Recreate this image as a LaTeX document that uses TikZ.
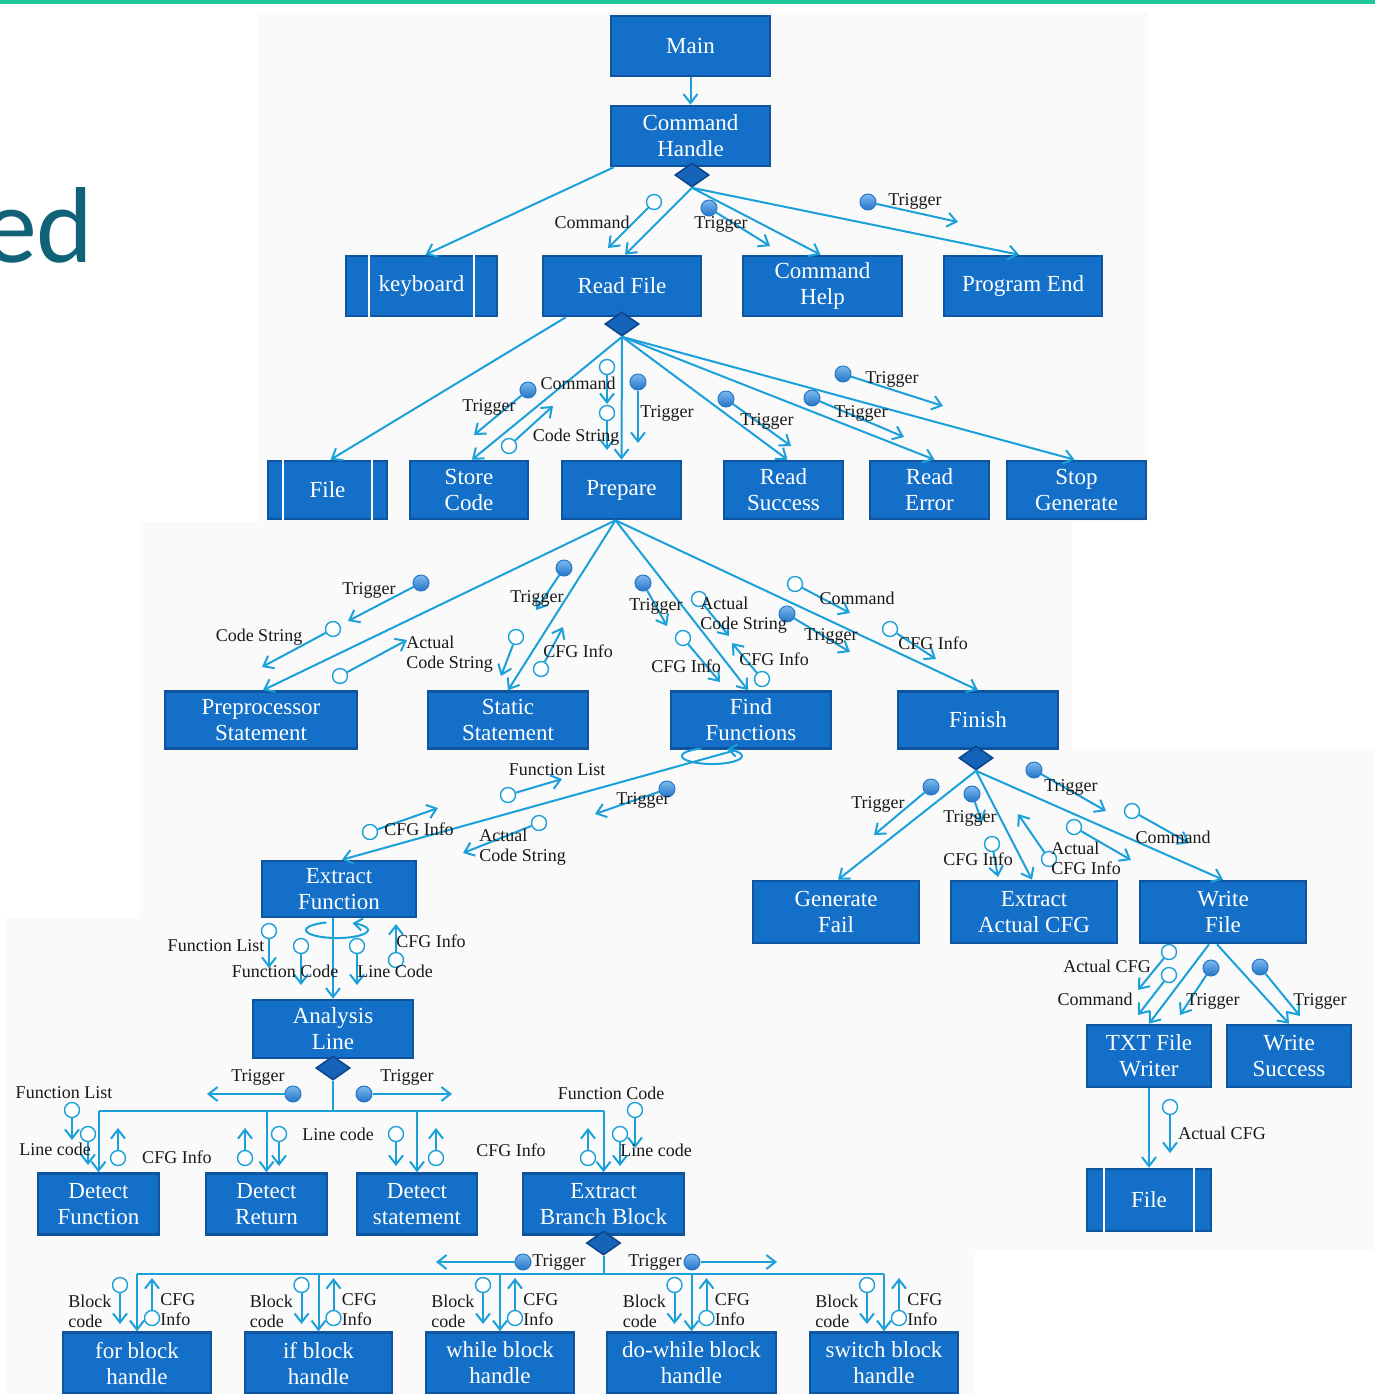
\documentclass[tikz,border=0pt]{standalone}
\usepackage{fontspec}
\setmainfont{Liberation Serif}
\newfontfamily\headfont{Carlito}
\usetikzlibrary{arrows.meta,shapes.geometric}

\definecolor{boxfill}{RGB}{19,111,199}
\definecolor{boxedge}{RGB}{14,84,158}
\definecolor{flowc}{RGB}{27,160,218}
\definecolor{ctltop}{RGB}{125,185,238}
\definecolor{ctlbot}{RGB}{35,115,200}
\definecolor{ctledge}{RGB}{40,120,200}
\definecolor{selfill}{RGB}{22,100,185}
\definecolor{seledge}{RGB}{12,70,140}
\definecolor{headc}{RGB}{16,98,120}
\definecolor{rulec}{RGB}{32,200,152}
\definecolor{panel}{RGB}{250,250,250}
\definecolor{labc}{RGB}{25,25,25}

\tikzset{
  box/.style={rectangle, draw=boxedge, line width=1.3pt, fill=boxfill, text=white,
    align=center, inner sep=1pt, font=\fontsize{11.5}{13}\selectfont},
  sel/.style={diamond, draw=seledge, line width=0.8pt, fill=selfill,
    minimum width=17pt, minimum height=12pt, inner sep=0pt},
  flw/.style={draw=flowc, line width=1pt, -{Straight Barb[length=4.5pt,width=7pt]}},
  bus/.style={draw=flowc, line width=1pt},
  dat/.style={circle, draw=flowc, fill=white, line width=0.7pt, minimum size=7.5pt, inner sep=0pt},
  ctl/.style={circle, draw=ctledge, line width=0.5pt, top color=ctltop, bottom color=ctlbot,
    minimum size=8pt, inner sep=0pt},
  lbl/.style={text=labc, inner sep=0pt, font=\fontsize{9}{10}\selectfont},
  lblw/.style={lbl, anchor=west, align=left},
  storeline/.style={draw=white, line width=1pt},
}

% module box: name, cx, cy, width, height, text (sizes in px units)
\newcommand\bx[6]{\node[box, minimum width=#4*0.5pt, minimum height=#5*0.5pt] (#1) at (#2,#3) {#6};}
% couple: name, kind, circle position, arrow end
\newcommand\cpl[6]{\node[#2] (#1) at (#3,#4) {}; \coordinate (#1e) at (#5,#6); \draw[flw] (#1) -- (#1e);}
\newcommand\lb[4]{\node[lbl] (#1) at (#2,#3) {#4};}
\newcommand\lbw[4]{\node[lblw] (#1) at (#2,#3) {#4};}
% data store bars inside a box
\newcommand\stl[2]{\draw[storeline] ([xshift=#2]#1.north west) -- ([xshift=#2]#1.south west);
  \draw[storeline] ([xshift=-#2]#1.north east) -- ([xshift=-#2]#1.south east);}

\begin{document}
\begin{tikzpicture}[x=0.5pt,y=-0.5pt]
\useasboundingbox (0,0) rectangle (1375,1394);
\fill[panel] (258,12) rectangle (1148,522);
\fill[panel] (140,522) rectangle (1072,918);
\fill[panel] (5,918) rectangle (975,1394);
\fill[panel] (745,748) rectangle (1375,1250);
\fill[rulec] (0,0) rectangle (1375,3.5);
\node[anchor=base east, inner sep=0pt, text=headc, font=\headfont\fontsize{54}{54}\selectfont] (head) at (94,262) {ed};

% ---------- modules ----------
\bx{main}{690.5}{46}{159}{60}{Main}
\bx{ch}{690.5}{136}{159}{60}{Command\\Handle}
\bx{kb}{421.5}{286}{151}{60}{keyboard}
\bx{rf}{622}{286}{158}{60}{Read File}
\bx{chelp}{822.5}{286}{159}{60}{Command\\Help}
\bx{pend}{1023}{286}{158}{60}{Program End}
\bx{fileA}{327.5}{490}{119}{58}{File}
\bx{store}{469}{490}{118}{58}{Store\\Code}
\bx{prep}{621.5}{490}{119}{58}{Prepare}
\bx{rsucc}{783.5}{490}{119}{58}{Read\\Success}
\bx{rerr}{929.5}{490}{119}{58}{Read\\Error}
\bx{stopg}{1076.5}{490}{139}{58}{Stop\\Generate}
\bx{pre}{261}{720}{192}{57}{Preprocessor\\Statement}
\bx{stat}{508}{720}{160}{57}{Static\\Statement}
\bx{findf}{751}{720}{160}{57}{Find\\Functions}
\bx{fin}{978}{720}{160}{57}{Finish}
\bx{exf}{339}{889}{154}{56}{Extract\\Function}
\bx{genf}{836}{912}{166}{62}{Generate\\Fail}
\bx{exa}{1034}{912}{166}{62}{Extract\\Actual CFG}
\bx{wf}{1223}{912}{166}{62}{Write\\File}
\bx{al}{333}{1029}{160}{58}{Analysis\\Line}
\bx{txt}{1149}{1056}{124}{62}{TXT File\\Writer}
\bx{wsucc}{1289}{1056}{124}{62}{Write\\Success}
\bx{fileB}{1149}{1200}{124}{62}{File}
\bx{df}{98.5}{1204}{121}{61}{Detect\\Function}
\bx{dr}{266.5}{1204}{121}{61}{Detect\\Return}
\bx{ds}{417}{1204}{120}{61}{Detect\\statement}
\bx{ebb}{603.5}{1204}{161}{61}{Extract\\Branch Block}
\bx{forb}{137}{1363}{148}{61}{for block\\handle}
\bx{ifb}{318.5}{1363}{147}{61}{if block\\handle}
\bx{whb}{500}{1363}{148}{61}{while block\\handle}
\bx{dwb}{691.5}{1363}{169}{61}{do-while block\\handle}
\bx{swb}{884}{1363}{148}{61}{switch block\\handle}
\stl{kb}{12pt}
\stl{fileA}{8pt}
\stl{fileB}{9pt}

% selection diamonds
\node[sel] (d1) at (692,175) {};
\node[sel] (d2) at (622,324) {};
\node[sel] (d3) at (976,758) {};
\node[sel] (d4) at (333,1068) {};
\node[sel] (d5) at (603.5,1243) {};

% ---------- calls ----------
\draw[flw] (main) -- (ch);
\draw[flw] ([xshift=2pt]ch.south west) -- ([xshift=2pt]kb.north);
\draw[flw] (d1.south) -- ([xshift=1.5pt]rf.north);
\draw[flw] (d1.south) -- ([xshift=-1pt]chelp.north);
\draw[flw] (d1.south) -- ([xshift=-2pt]pend.north);

\draw[flw] ([xshift=12pt]rf.south west) -- ([xshift=1.5pt]fileA.north);
\draw[flw] (d2.south) -- ([xshift=1.5pt]store.north);
\draw[flw] (d2.south) -- (prep.north);
\draw[flw] (d2.south) -- ([xshift=2pt]rsucc.north);
\draw[flw] (d2.south) -- ([xshift=2.5pt]rerr.north);
\draw[flw] (d2.south) -- ([xshift=-1pt]stopg.north);

\draw[flw] ([xshift=-3pt]prep.south) -- ([xshift=1pt]pre.north);
\draw[flw] ([xshift=-3pt]prep.south) -- (stat.north);
\draw[flw] ([xshift=-3pt]prep.south) -- ([xshift=-1.5pt]findf.north);
\draw[flw] ([xshift=-3pt]prep.south) -- (fin.north);

\draw[flw] ([xshift=-7pt]findf.south) -- ([xshift=1.5pt]exf.north);
\coordinate (lp1) at (701.7,748.5);
\draw[draw=flowc, line width=1pt, -{Straight Barb[length=4pt,width=6pt]}] (lp1) arc[start angle=110, end angle=420, x radius=15pt, y radius=4pt];

\draw[flw] (d3.south) -- ([xshift=1pt]genf.north);
\draw[flw] (d3.south) -- ([xshift=-1pt]exa.north);
\draw[flw] (d3.south) -- (wf.north);

\draw[flw] ([xshift=-7pt]wf.south) -- (txt.north);
\draw[flw] ([xshift=-3pt]wf.south) -- (wsucc.north);
\draw[flw] (txt.south) -- (fileB.north);

\draw[flw] ([xshift=-3pt]exf.south) -- (al.north);
\coordinate (lp2) at (326.4,922.5);
\draw[draw=flowc, line width=1pt, -{Straight Barb[length=4pt,width=6pt]}] (lp2) arc[start angle=110, end angle=420, x radius=15.5pt, y radius=4pt];

\coordinate (ja) at (333,1111);
\coordinate (ja1) at (98.5,1111);
\coordinate (ja2) at (266.5,1111);
\coordinate (ja3) at (417,1111);
\coordinate (ja4) at (603.5,1111);
\draw[bus] (d4.south) -- (ja);
\draw[bus] (ja1) -- (ja4);
\draw[flw] (ja1) -- (df.north);
\draw[flw] (ja2) -- (dr.north);
\draw[flw] (ja3) -- (ds.north);
\draw[flw] (ja4) -- (ebb.north);

\coordinate (jb) at (603.5,1274);
\coordinate (jb1) at (137,1274);
\coordinate (jb5) at (884,1274);
\draw[bus] (d5.south) -- (jb);
\draw[bus] (jb1) -- (jb5);
\foreach \n/\x in {forb/137, ifb/318.5, whb/500, dwb/691.5, swb/884} {
  \coordinate (jb\n) at (\x,1274);
  \draw[flw] (jb\n) -- (\n.north);
  \cpl{bk\n}{dat}{\x-17}{1285}{\x-17}{1324}
  \cpl{cf\n}{dat}{\x+15}{1318}{\x+15}{1278}
  \node[lblw] (lbk\n) at (\x-69,1311) {Block\\code};
  \node[lblw] (lcf\n) at (\x+23,1310) {CFG\\Info};
}

% ---------- couples ----------
\cpl{c1}{dat}{654}{202}{608}{248}
\cpl{c2}{ctl}{709}{208}{770}{246}
\cpl{c3}{ctl}{868}{202}{958}{222}

\cpl{c4}{ctl}{528}{390}{474}{435}
\cpl{c5}{dat}{509}{446}{553}{406}
\cpl{c6}{dat}{607}{367}{607}{404}
\cpl{c7}{dat}{607}{413}{607}{450}
\cpl{c8}{ctl}{638}{382}{638}{443}
\cpl{c9}{ctl}{726}{399}{791}{446}
\cpl{c10}{ctl}{812}{398}{904}{437}
\cpl{c11}{ctl}{843}{374}{943}{406}

\cpl{c12}{ctl}{421}{583}{348}{621}
\cpl{c13}{dat}{333}{629}{262}{667}
\cpl{c14}{dat}{340}{676}{407}{640}
\cpl{c15}{ctl}{564}{568}{536}{610}
\cpl{c16}{dat}{516}{637}{501}{676}
\cpl{c17}{dat}{541}{669}{563}{627}
\cpl{c18}{ctl}{643}{583}{667}{626}
\cpl{c19}{dat}{699}{599}{729}{636}
\cpl{c20}{dat}{683}{638}{720}{682}
\cpl{c21}{dat}{762}{679}{732}{643}
\cpl{c22}{dat}{795}{584}{850}{613}
\cpl{c23}{ctl}{787}{614}{850}{652}
\cpl{c24}{dat}{890}{629}{936}{659}

\cpl{c25}{dat}{508}{795}{562}{779}
\cpl{c26}{ctl}{667}{789}{595}{814}
\cpl{c27}{dat}{370}{832}{438}{808}
\cpl{c28}{dat}{539}{823}{463}{853}

\cpl{c29}{ctl}{931}{787}{874}{835}
\cpl{c30}{ctl}{972}{794}{982}{822}
\cpl{c31}{dat}{992}{844}{998}{877}
\cpl{c32}{dat}{1049}{859}{1018}{814}
\cpl{c33}{ctl}{1034}{770}{1106}{811}
\cpl{c34}{dat}{1074}{827}{1131}{860}
\cpl{c35}{dat}{1132}{811}{1189}{843}

\cpl{c36}{dat}{1169}{952}{1138}{990}
\cpl{c37}{dat}{1169}{975}{1138}{1015}
\cpl{c38}{ctl}{1211}{968}{1180}{1015}
\cpl{c39}{ctl}{1260}{967}{1300}{1016}
\cpl{c40}{dat}{1170}{1107}{1170}{1153}

\cpl{c41}{dat}{269}{931}{269}{968}
\cpl{c42}{dat}{301}{946}{301}{985}
\cpl{c43}{dat}{357}{946}{357}{985}
\cpl{c44}{dat}{396}{960}{396}{924}

\cpl{c45}{ctl}{293}{1094}{207}{1094}
\cpl{c46}{ctl}{364}{1094}{452}{1094}
\cpl{c47}{dat}{72}{1110}{72}{1140}
\cpl{c48}{dat}{88}{1134}{88}{1165}
\cpl{c49}{dat}{118}{1158}{118}{1128}
\cpl{c50}{dat}{245}{1158}{245}{1128}
\cpl{c51}{dat}{279}{1134}{279}{1166}
\cpl{c52}{dat}{396}{1134}{396}{1166}
\cpl{c53}{dat}{436}{1158}{436}{1128}
\cpl{c54}{dat}{588}{1158}{588}{1128}
\cpl{c55}{dat}{620}{1134}{620}{1166}
\cpl{c56}{dat}{635}{1110}{635}{1148}

\cpl{c57}{ctl}{523}{1262}{436}{1262}
\cpl{c58}{ctl}{692}{1262}{777}{1262}

% ---------- couple labels ----------
\lb{l1}{592}{222}{Command}
\lb{l2}{721}{224}{Trigger}
\lb{l3}{915}{201}{Trigger}
\lb{l4}{489}{407}{Trigger}
\lb{l5}{578}{383}{Command}
\lb{l6}{576}{437}{Code String}
\lb{l7}{667}{413}{Trigger}
\lb{l8}{767}{421}{Trigger}
\lb{l9}{861}{413}{Trigger}
\lb{l10}{892}{379}{Trigger}
\lb{l11}{369}{590}{Trigger}
\lb{l12}{259}{637}{Code String}
\lbw{l13}{406}{654}{Actual\\Code String}
\lb{l14}{537}{598}{Trigger}
\lb{l15}{578}{651}{CFG Info}
\lb{l16}{656}{606}{Trigger}
\lbw{l17}{700}{615}{Actual\\Code String}
\lb{l18}{686}{666}{CFG Info}
\lb{l19}{774}{659}{CFG Info}
\lb{l20}{857}{598}{Command}
\lb{l21}{831}{636}{Trigger}
\lb{l22}{933}{643}{CFG Info}
\lb{l23}{557}{770}{Function List}
\lb{l24}{643}{800}{Trigger}
\lb{l25}{419}{829}{CFG Info}
\lbw{l26}{479}{847}{Actual\\Code String}
\lb{l27}{878}{804}{Trigger}
\lb{l28}{970}{818}{Trigger}
\lb{l29}{978}{859}{CFG Info}
\lbw{l30}{1051}{858}{Actual\\CFG Info}
\lb{l31}{1071}{787}{Trigger}
\lb{l32}{1173}{837}{Command}
\lb{l33}{1107}{966}{Actual CFG}
\lb{l34}{1095}{999}{Command}
\lb{l35}{1213}{1001}{Trigger}
\lb{l36}{1320}{1001}{Trigger}
\lb{l37}{1222}{1133}{Actual CFG}
\lb{l38}{216}{946}{Function List}
\lb{l39}{285}{971}{Function Code}
\lb{l40}{395}{971}{Line Code}
\lb{l41}{431}{941}{CFG Info}
\lb{l42}{258}{1077}{Trigger}
\lb{l43}{407}{1077}{Trigger}
\lb{l44}{64}{1093}{Function List}
\lb{l45}{55}{1149}{Line code}
\lb{l46}{177}{1157}{CFG Info}
\lb{l47}{338}{1134}{Line code}
\lb{l48}{511}{1150}{CFG Info}
\lb{l49}{611}{1093}{Function Code}
\lb{l50}{656}{1150}{Line code}
\lb{l51}{559}{1262}{Trigger}
\lb{l52}{655}{1262}{Trigger}
\end{tikzpicture}
\end{document}
